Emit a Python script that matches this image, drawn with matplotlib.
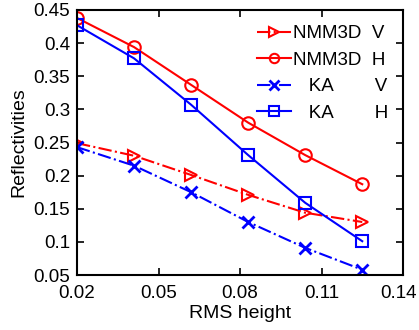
import matplotlib.pyplot as plt
import matplotlib.transforms as mtransforms

plt.rcParams['font.family'] = ['Liberation Sans', 'DejaVu Sans']

rms = [0.02, 0.041, 0.062, 0.083, 0.104, 0.125]

nmm3d_v = [0.249, 0.230, 0.201, 0.171, 0.144, 0.130]
nmm3d_h = [0.438, 0.394, 0.337, 0.280, 0.231, 0.187]
ka_v = [0.243, 0.215, 0.175, 0.130, 0.091, 0.058]
ka_h = [0.427, 0.377, 0.307, 0.231, 0.159, 0.101]

xticks = [0.02, 0.05, 0.08, 0.11, 0.14]
yticks = [0.05, 0.1, 0.15, 0.2, 0.25, 0.3, 0.35, 0.4, 0.45]
ylabels = ['0.05', '0.1', '0.15', '0.2', '0.25', '0.3', '0.35', '0.4', '0.45']

fig = plt.figure(figsize=(4.19, 3.30), dpi=100)
ax = fig.add_axes([77/419, 1-275/330, 326/419, 265/330])

ax.plot(rms, nmm3d_v, color='red', linestyle='-.', marker='>', mfc='none',
        markersize=9, mew=1.5, lw=1.5, label='NMM3D  V')
ax.plot(rms, nmm3d_h, color='red', linestyle='-', marker='o', mfc='none',
        markersize=9, mew=1.5, lw=1.5, label='NMM3D  H')
ax.plot(rms, ka_v, color='blue', linestyle='-.', marker='x',
        markersize=9, mew=2, lw=1.5, label='   KA        V')
ax.plot(rms, ka_h, color='blue', linestyle='-', marker='s', mfc='none',
        markersize=9, mew=1.5, lw=1.5, label='   KA        H')

ax.set_xlim(0.02, 0.14)
ax.set_ylim(0.05, 0.45)
ax.set_xticks(xticks)
ax.set_xticklabels(['0.02', '0.05', '0.08', '0.11', '0.14'])
ax.set_yticks(yticks)
ax.set_yticklabels(ylabels)
ax.tick_params(direction='in', top=True, right=True, labelsize=13.5, length=5, width=1.2)
ax.tick_params(axis='x', pad=7)
ax.tick_params(axis='y', pad=5)
for s in ax.spines.values():
    s.set_linewidth(1.5)

# keep the last x label inside the figure
last = ax.get_xticklabels()[-1]
last.set_transform(last.get_transform() + mtransforms.ScaledTranslation(-3/72, 0, fig.dpi_scale_trans))

ax.set_xlabel('RMS height', fontsize=14, labelpad=2)
ax.set_ylabel('Reflectivities', fontsize=14)

ax.legend(loc='upper right', frameon=False, fontsize=13.5, handlelength=1.8,
          handletextpad=0.1, labelspacing=0.5, borderaxespad=0.4, markerscale=0.75)

fig.savefig('out.png', dpi=100)
